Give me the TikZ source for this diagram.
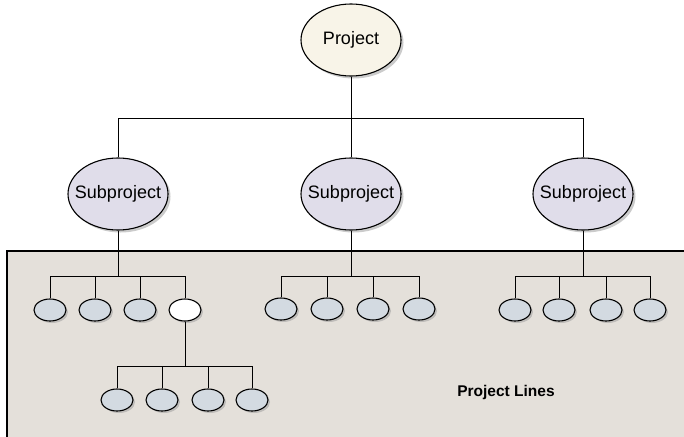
\documentclass[tikz,border=0pt]{standalone}
\usepackage{fontspec}
\setmainfont{Liberation Sans}
\usetikzlibrary{shapes.geometric}
\usetikzlibrary{shadows}
\definecolor{projfill}{HTML}{F8F4E8}
\definecolor{subfill}{HTML}{E0DDEA}
\definecolor{leaffill}{HTML}{D3DAE1}
\definecolor{areafill}{HTML}{E4E0DA}

\begin{document}
\begin{tikzpicture}[x=1pt,y=-1pt,
    big/.style={shape=ellipse, draw, line width=1.1pt, inner xsep=-9pt, inner ysep=0pt,
        minimum width=100pt, minimum height=72pt,
        font=\fontsize{18}{20}\selectfont,
        drop shadow={shadow xshift=2.5pt, shadow yshift=-2.5pt, fill=black!40}},
    leaf/.style={shape=ellipse, draw, line width=1.1pt, inner sep=0pt,
        minimum width=32pt, minimum height=22pt, fill=leaffill,
        drop shadow={shadow xshift=2pt, shadow yshift=-2pt, fill=black!40}},
    link/.style={line width=1pt}]
            \useasboundingbox (0,0) rectangle (684,436);
            \fill[white] (0,0) rectangle (684,436);
            \draw[line width=1.1pt, fill=areafill] (7,251) rectangle (700,450);

            \node[big, fill=projfill] (P) at (351,40) {Project};
            \node[big, fill=subfill] (A) at (118,194) {Subproject};
            \node[big, fill=subfill] (B) at (351,194) {Subproject};
            \node[big, fill=subfill] (C) at (583,194) {Subproject};

            \node[leaf] (A1) at (50,310) {};
            \node[leaf] (A2) at (95,310) {};
            \node[leaf] (A3) at (140,310) {};
            \node[leaf, fill=white] (A4) at (185,310) {};
            \node[leaf] (B1) at (281,309) {};
            \node[leaf] (B2) at (327,309) {};
            \node[leaf] (B3) at (373,309) {};
            \node[leaf] (B4) at (419,309) {};
            \node[leaf] (C1) at (515,310) {};
            \node[leaf] (C2) at (559,310) {};
            \node[leaf] (C3) at (606,310) {};
            \node[leaf] (C4) at (650,310) {};
            \node[leaf] (D1) at (117,400) {};
            \node[leaf] (D2) at (162,400) {};
            \node[leaf] (D3) at (208,400) {};
            \node[leaf] (D4) at (252,400) {};

            \node[font=\fontsize{15.5}{18}\selectfont\bfseries] (L) at (506,392) {Project Lines};

            \coordinate (PJ) at (351,118);
            \coordinate (AJ) at (118,276);
            \coordinate (BJ) at (351,276);
            \coordinate (CJ) at (583,276);
            \coordinate (DJ) at (185,366);

            \draw[link] (P) -- (PJ);
            \foreach \s in {A,B,C}
                \draw[link] (PJ) -| (\s);
            \draw[link] (A) -- (AJ);
            \draw[link] (B) -- (BJ);
            \draw[link] (C) -- (CJ);
            \draw[link] (A4) -- (DJ);
            \foreach \i in {1,...,4} {
                \draw[link] (AJ) -| (A\i);
                \draw[link] (BJ) -| (B\i);
                \draw[link] (CJ) -| (C\i);
                \draw[link] (DJ) -| (D\i);
            }
        \end{tikzpicture}
\end{document}
